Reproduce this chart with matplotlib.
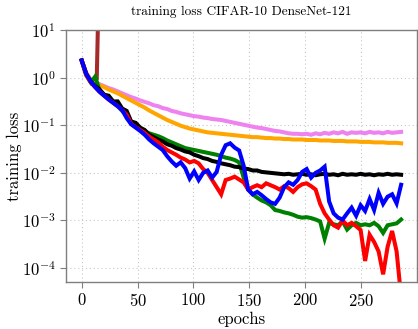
import numpy as np
from matplotlib import pyplot as plt
from matplotlib.ticker import FixedLocator, LogFormatterSciNotation, NullLocator

plt.rcParams["font.family"] = "serif"
plt.rcParams["font.serif"] = ["cmr10", "DejaVu Serif"]
plt.rcParams["mathtext.fontset"] = "cm"
plt.rcParams["axes.formatter.use_mathtext"] = True
plt.rcParams["axes.unicode_minus"] = False

TITLE = "training loss CIFAR-10 DenseNet-121"

# epochs sampled every ~4 epochs, values are log10(training loss)
epochs = np.linspace(0, 286, 72)

log_orange = [
    0.36, 0.10, -0.06, -0.12, -0.16, -0.20, -0.25, -0.29, -0.33, -0.38, -0.43, -0.48,
    -0.53, -0.58, -0.63, -0.69, -0.74, -0.79, -0.84, -0.89, -0.93, -0.97, -1.01, -1.04,
    -1.07, -1.09, -1.11, -1.13, -1.15, -1.16, -1.17, -1.18, -1.19, -1.20, -1.21, -1.22,
    -1.23, -1.24, -1.25, -1.25, -1.26, -1.27, -1.27, -1.28, -1.28, -1.29, -1.29, -1.30,
    -1.30, -1.30, -1.31, -1.31, -1.31, -1.32, -1.32, -1.32, -1.33, -1.33, -1.33, -1.34,
    -1.34, -1.34, -1.35, -1.35, -1.35, -1.36, -1.36, -1.36, -1.37, -1.37, -1.37, -1.38,
]

log_violet = [
    0.36, 0.10, -0.04, -0.10, -0.14, -0.18, -0.22, -0.25, -0.29, -0.33, -0.37, -0.41,
    -0.44, -0.48, -0.51, -0.54, -0.58, -0.60, -0.64, -0.66, -0.70, -0.72, -0.75, -0.77,
    -0.79, -0.81, -0.82, -0.84, -0.85, -0.87, -0.88, -0.89, -0.91, -0.93, -0.95, -0.97,
    -0.99, -1.01, -1.03, -1.05, -1.06, -1.08, -1.10, -1.12, -1.13, -1.15, -1.17, -1.18,
    -1.18, -1.19, -1.18, -1.20, -1.17, -1.19, -1.16, -1.18, -1.15, -1.17, -1.14, -1.18,
    -1.15, -1.16, -1.15, -1.17, -1.14, -1.16, -1.15, -1.17, -1.14, -1.16, -1.15, -1.14,
]

log_black = [
    0.36, 0.08, -0.08, -0.18, -0.25, -0.36, -0.38, -0.50, -0.50, -0.65, -0.70, -0.92,
    -0.95, -1.05, -1.10, -1.20, -1.25, -1.30, -1.34, -1.40, -1.43, -1.48, -1.51, -1.55,
    -1.57, -1.62, -1.65, -1.69, -1.71, -1.75, -1.77, -1.80, -1.82, -1.84, -1.87, -1.88,
    -1.91, -1.92, -1.95, -1.95, -1.98, -1.99, -2.00, -2.01, -2.02, -2.03, -2.02, -2.04,
    -2.03, -2.02, -2.04, -2.03, -2.05, -2.03, -2.02, -2.04, -2.03, -2.05, -2.02, -2.04,
    -2.03, -2.04, -2.02, -2.04, -2.03, -2.05, -2.03, -2.04, -2.02, -2.04, -2.03, -2.04,
]

log_green = [
    0.36, 0.05, -0.10, 0.02, -0.28, -0.36, -0.44, -0.52, -0.60, -0.70, -0.80, -0.97,
    -1.03, -1.08, -1.13, -1.17, -1.20, -1.23, -1.27, -1.32, -1.36, -1.40, -1.44, -1.48,
    -1.50, -1.52, -1.54, -1.56, -1.58, -1.60, -1.62, -1.65, -1.68, -1.70, -1.73, -1.78,
    -2.10, -2.35, -2.45, -2.52, -2.58, -2.62, -2.68, -2.78, -2.80, -2.83, -2.85, -2.88,
    -2.92, -2.94, -2.93, -2.95, -2.98, -3.02, -3.38, -3.05, -3.08, -3.10, -3.02, -3.19,
    -3.10, -3.05, -3.10, -3.08, -3.10, -3.05, -3.12, -3.26, -3.10, -3.08, -3.06, -2.98,
]

log_red = [
    0.36, 0.06, -0.10, -0.20, -0.30, -0.38, -0.46, -0.53, -0.60, -0.68, -0.78, -0.97,
    -1.04, -1.10, -1.16, -1.24, -1.30, -1.36, -1.45, -1.52, -1.57, -1.62, -1.68, -1.72,
    -1.78, -1.75, -1.80, -1.92, -2.00, -2.15, -2.30, -2.45, -2.15, -2.12, -2.08, -2.14,
    -2.20, -2.35, -2.30, -2.26, -2.30, -2.22, -2.26, -2.30, -2.35, -2.28, -2.32, -2.40,
    -2.30, -2.24, -2.22, -2.28, -2.35, -2.65, -2.85, -2.98, -3.10, -3.15, -3.00, -3.10,
    -3.05, -3.12, -3.20, -3.85, -3.30, -3.45, -3.65, -4.13, -3.55, -3.22, -3.65, -4.60,
]

log_blue = [
    0.36, 0.08, -0.08, -0.20, -0.30, -0.38, -0.46, -0.53, -0.60, -0.68, -0.85, -0.98,
    -1.05, -1.12, -1.20, -1.30, -1.38, -1.45, -1.52, -1.65, -1.76, -1.85, -1.78, -1.90,
    -2.12, -1.97, -2.15, -2.00, -1.95, -2.10, -1.98, -1.62, -1.42, -1.38, -1.47, -1.53,
    -1.85, -2.35, -2.45, -2.40, -2.47, -2.55, -2.62, -2.65, -2.52, -2.30, -2.20, -2.25,
    -2.15, -1.98, -1.92, -2.10, -2.00, -1.95, -1.87, -2.60, -2.85, -2.94, -2.98, -2.85,
    -2.73, -2.90, -2.68, -2.80, -2.55, -2.78, -2.42, -2.65, -2.50, -2.45, -2.64, -2.25,
]

brown_epochs = [0, 4, 8, 12, 13.5, 15]
log_brown = [0.36, 0.08, -0.06, -0.04, -0.02, 1.6]

SERIES = [
    ("brown", brown_epochs, log_brown, "#a52a2a"),
    ("violet", epochs, log_violet, "#ee82ee"),
    ("orange", epochs, log_orange, "#ffa500"),
    ("green", epochs, log_green, "#008000"),
    ("black", epochs, log_black, "#000000"),
    ("red", epochs, log_red, "#ff0000"),
    ("blue", epochs, log_blue, "#0000ff"),
]


def plot_losses() -> None:
    fig = plt.figure(figsize=(4.18, 3.29), dpi=100)
    ax = fig.add_axes([0.158, 0.143, 0.839, 0.766])

    for _name, x, logs, color in SERIES:
        ax.plot(x, 10 ** np.array(logs), color=color, lw=2.9, solid_joinstyle="miter")

    ax.set_yscale("log")
    ax.set_xlim(-14, 300)
    ax.set_ylim(10 ** -4.29, 10)
    ax.xaxis.set_major_locator(FixedLocator([0, 50, 100, 150, 200, 250]))
    ax.yaxis.set_major_locator(FixedLocator([1e-4, 1e-3, 1e-2, 1e-1, 1e0, 1e1]))
    ax.yaxis.set_major_formatter(LogFormatterSciNotation())
    ax.yaxis.set_minor_locator(NullLocator())

    ax.grid(True, color="#c8c8c8", linestyle=(0, (1, 2.5)), linewidth=0.8)
    for spine in ax.spines.values():
        spine.set_color("#7f7f7f")
        spine.set_linewidth(1.0)
    ax.tick_params(colors="#7f7f7f", labelcolor="black", labelsize=12, length=4, width=0.8)

    ax.set_title(TITLE, fontsize=9.6, pad=11)
    ax.set_xlabel("epochs", fontsize=12, labelpad=2)
    ax.set_ylabel("training loss", fontsize=12, labelpad=0)

    fig.savefig("out.png", dpi=100)


if __name__ == "__main__":
    plot_losses()
